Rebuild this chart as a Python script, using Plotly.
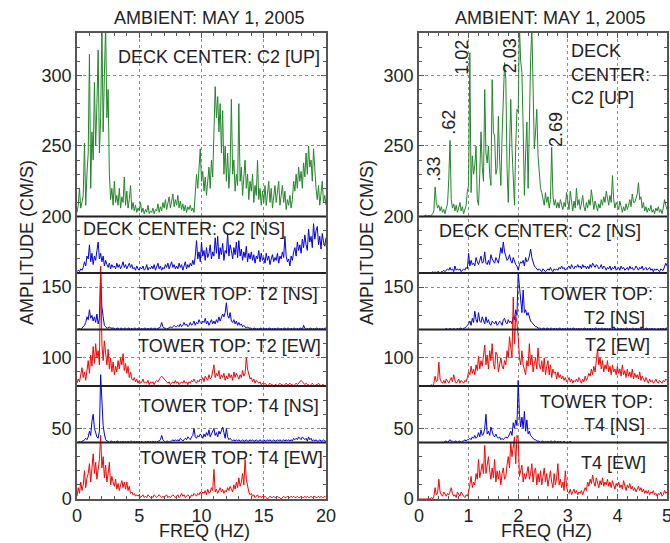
import plotly.graph_objects as go

# ---------------- DATA ----------------
# Left panel: 0-20 Hz, step 0.1 Hz (amplitudes above each trace's baseline, cm/s)
STEP_L = 0.1
GREEN_L = [
    3, 8, 20, 6, 10, 15, 52, 8, 30, 45,
    115, 20, 60, 40, 95, 50, 80, 118, 45, 70,
    135, 60, 100, 135, 70, 90, 30, 12, 20, 8,
    25, 10, 15, 8, 20, 6, 14, 10, 28, 8,
    18, 6, 12, 22, 5, 10, 4, 8, 3, 6,
    4, 10, 3, 6, 2, 5, 3, 8, 2, 4,
    3, 6, 2, 5, 4, 9, 3, 7, 4, 10,
    6, 12, 5, 9, 14, 6, 10, 16, 7, 12,
    8, 15, 6, 11, 5, 9, 4, 8, 3, 7,
    5, 8, 4, 6, 3, 18, 30, 20, 35, 48,
    25, 32, 18, 28, 15, 25, 35, 20, 40, 28,
    55, 92, 70, 85, 60, 80, 45, 75, 30, 50,
    25, 45, 20, 35, 83, 30, 40, 18, 30, 22,
    80, 25, 35, 15, 28, 40, 20, 30, 12, 25,
    18, 30, 10, 22, 15, 40, 12, 20, 8, 18,
    10, 22, 8, 15, 25, 10, 20, 6, 14, 22,
    10, 18, 25, 8, 15, 22, 10, 18, 5, 12,
    8, 15, 6, 12, 25, 18, 30, 20, 35, 25,
    32, 20, 38, 28, 45, 30, 50, 35, 40, 25,
    48, 30, 20, 12, 22, 8, 18, 25, 10, 15,
    8]
C2NS_L = [
    1, 2, 1, 3, 2, 4, 8, 5, 12, 10,
    20, 8, 14, 6, 12, 9, 16, 22, 10, 14,
    8, 12, 5, 9, 6, 4, 7, 3, 6, 4,
    5, 3, 7, 4, 6, 3, 5, 8, 4, 6,
    3, 5, 7, 4, 6, 3, 4, 2, 5, 3,
    2, 4, 3, 5, 2, 3, 6, 2, 4, 3,
    5, 3, 6, 2, 4, 7, 3, 5, 2, 4,
    3, 6, 4, 7, 3, 5, 8, 4, 6, 3,
    5, 3, 7, 4, 6, 2, 5, 8, 3, 6,
    4, 7, 5, 9, 6, 12, 23, 10, 15, 8,
    22, 12, 16, 9, 18, 11, 14, 20, 10, 15,
    12, 25, 14, 26, 10, 18, 13, 21, 9, 16,
    14, 28, 12, 20, 16, 10, 18, 13, 22, 11,
    23, 12, 17, 9, 15, 11, 19, 8, 14, 10,
    15, 9, 13, 7, 12, 10, 16, 8, 14, 9,
    11, 7, 14, 9, 12, 6, 10, 13, 8, 11,
    9, 14, 7, 12, 10, 15, 11, 26, 12, 8,
    10, 5, 12, 9, 15, 18, 12, 22, 16, 20,
    14, 24, 18, 27, 20, 16, 31, 22, 26, 18,
    35, 24, 30, 33, 20, 26, 17, 28, 22, 19,
    25]
T2NS_L = [
    0, 0, 1, 0, 1, 2, 3, 5, 9, 7,
    14, 8, 10, 6, 9, 5, 11, 4, 8, 40,
    16, 9, 3, 2, 1, 1, 2, 1, 1, 1,
    1, 0, 1, 1, 0, 1, 1, 0, 1, 1,
    0, 1, 1, 0, 1, 0, 1, 1, 0, 1,
    1, 0, 1, 0, 1, 1, 0, 1, 0, 1,
    1, 0, 1, 1, 0, 1, 1, 2, 5, 2,
    1, 1, 0, 1, 1, 2, 1, 2, 3, 2,
    2, 3, 2, 4, 2, 3, 5, 3, 4, 2,
    3, 5, 3, 4, 6, 3, 5, 4, 7, 5,
    4, 6, 5, 8, 4, 6, 3, 5, 7, 4,
    6, 4, 7, 5, 9, 6, 8, 11, 9, 12,
    19, 10, 8, 12, 6, 5, 7, 4, 6, 3,
    5, 3, 4, 2, 3, 2, 1, 2, 1, 1,
    1, 0, 1, 1, 0, 1, 0, 1, 1, 0,
    1, 0, 1, 0, 1, 1, 0, 1, 0, 1,
    0, 1, 1, 0, 1, 0, 1, 1, 0, 1,
    1, 0, 1, 0, 1, 1, 0, 1, 0, 1,
    1, 0, 3, 1, 0, 1, 0, 1, 1, 0,
    1, 0, 1, 1, 0, 1, 0, 1, 0, 1,
    1]
T2EW_L = [
    2, 5, 3, 8, 13, 6, 10, 4, 12, 18,
    9, 22, 14, 28, 16, 30, 20, 25, 15, 85,
    30, 18, 32, 22, 15, 26, 12, 20, 10, 17,
    8, 14, 10, 18, 12, 20, 15, 23, 11, 16,
    9, 14, 6, 10, 5, 4, 6, 3, 5, 2,
    4, 2, 3, 5, 2, 3, 2, 4, 1, 3,
    2, 3, 1, 3, 4, 3, 5, 6, 7, 6,
    5, 4, 3, 2, 3, 1, 2, 3, 2, 4,
    2, 3, 1, 2, 3, 2, 4, 2, 3, 1,
    3, 2, 4, 3, 5, 3, 2, 4, 3, 5,
    4, 6, 3, 7, 5, 4, 8, 5, 6, 10,
    15, 6, 9, 7, 11, 5, 8, 6, 9, 4,
    7, 5, 9, 6, 8, 4, 10, 6, 9, 7,
    5, 8, 6, 11, 7, 9, 20, 12, 8, 5,
    6, 3, 5, 2, 4, 3, 2, 3, 1, 2,
    1, 2, 1, 0, 1, 2, 1, 1, 0, 1,
    1, 0, 1, 2, 1, 1, 0, 1, 2, 1,
    1, 2, 1, 1, 0, 1, 2, 1, 2, 3,
    4, 3, 2, 1, 2, 1, 1, 0, 1, 2,
    1, 0, 1, 1, 2, 1, 0, 1, 1, 0,
    1]
T4NS_L = [
    0, 0, 1, 0, 1, 1, 2, 3, 2, 4,
    8, 5, 15, 20, 10, 6, 4, 3, 8, 48,
    24, 12, 6, 2, 1, 1, 0, 1, 1, 0,
    1, 0, 1, 1, 0, 1, 0, 1, 0, 1,
    0, 1, 0, 1, 1, 0, 1, 0, 1, 0,
    1, 0, 1, 0, 0, 1, 0, 1, 0, 1,
    0, 1, 0, 1, 0, 1, 1, 2, 5, 2,
    1, 0, 1, 1, 0, 1, 1, 2, 1, 2,
    1, 2, 1, 3, 2, 1, 2, 3, 2, 4,
    3, 2, 4, 5, 10, 4, 3, 5, 4, 6,
    5, 3, 6, 4, 7, 5, 9, 4, 6, 8,
    10, 5, 7, 4, 8, 6, 9, 11, 7, 3,
    10, 4, 2, 3, 2, 1, 2, 1, 2, 1,
    2, 1, 1, 2, 1, 1, 2, 1, 1, 2,
    1, 2, 1, 1, 2, 1, 1, 2, 1, 1,
    2, 1, 1, 2, 1, 2, 1, 1, 2, 1,
    1, 2, 1, 2, 1, 1, 2, 1, 2, 1,
    2, 1, 2, 1, 3, 2, 3, 2, 4, 3,
    2, 4, 3, 2, 3, 1, 4, 2, 3, 1,
    2, 1, 2, 1, 1, 2, 1, 1, 2, 1,
    1]
T4EW_L = [
    2, 8, 4, 12, 6, 10, 20, 8, 15, 18,
    25, 12, 22, 32, 18, 26, 14, 20, 28, 45,
    22, 30, 15, 24, 12, 18, 26, 10, 16, 12,
    9, 14, 7, 11, 6, 10, 13, 8, 12, 7,
    12, 6, 9, 4, 5, 3, 4, 2, 3, 2,
    3, 1, 2, 3, 1, 2, 1, 3, 2, 1,
    2, 1, 3, 2, 1, 2, 3, 2, 1, 2,
    1, 2, 3, 1, 2, 1, 2, 3, 2, 1,
    2, 3, 1, 2, 4, 2, 3, 1, 2, 3,
    2, 1, 3, 2, 4, 3, 2, 4, 3, 5,
    3, 5, 4, 6, 3, 7, 4, 5, 8, 6,
    21, 5, 7, 4, 6, 8, 5, 7, 4, 6,
    5, 8, 6, 9, 7, 5, 10, 7, 12, 8,
    15, 9, 12, 18, 10, 28, 14, 8, 5, 3,
    4, 2, 3, 1, 2, 3, 1, 2, 1, 2,
    1, 2, 1, 0, 1, 2, 1, 1, 2, 1,
    1, 2, 1, 1, 0, 1, 2, 1, 1, 2,
    1, 1, 2, 1, 2, 1, 1, 2, 1, 1,
    2, 1, 1, 2, 1, 2, 1, 1, 2, 1,
    1, 2, 1, 1, 2, 1, 2, 1, 1, 2,
    1]

# Right panel: 0-5 Hz, step 0.025 Hz
STEP_R = 0.025
GREEN_R = [
    0, 0, 0, 0, 0, 1, 1, 0,
    1, 0, 1, 2, 4, 21, 10, 6,
    8, 4, 7, 3, 5, 2, 6, 9,
    26, 54, 12, 6, 9, 4, 8, 3,
    6, 10, 4, 7, 2, 5, 8, 18,
    22, 116, 17, 43, 30, 36, 50, 12,
    8, 30, 60, 35, 25, 90, 45, 38,
    50, 30, 22, 97, 60, 57, 30, 34,
    71, 40, 22, 57, 80, 109, 97, 34,
    10, 40, 83, 48, 25, 8, 50, 76,
    74, 135, 110, 102, 62, 15, 45, 67,
    20, 83, 110, 135, 74, 48, 60, 76,
    43, 27, 20, 17, 13, 8, 17, 10,
    14, 6, 12, 49, 15, 8, 12, 6,
    10, 6, 12, 8, 5, 10, 7, 17,
    9, 5, 18, 8, 4, 11, 6, 20,
    8, 12, 5, 9, 15, 7, 4, 10,
    6, 12, 8, 19, 9, 5, 11, 7,
    4, 9, 6, 12, 8, 14, 10, 18,
    12, 8, 15, 10, 29, 12, 6, 10,
    8, 5, 11, 6, 3, 7, 4, 9,
    5, 8, 12, 7, 16, 10, 10, 13,
    16, 24, 12, 14, 6, 10, 4, 7,
    3, 6, 4, 8, 3, 5, 2, 6,
    4, 7, 3, 5, 2, 6, 12, 8,
    5]
C2NS_R = [
    0, 0, 0, 0, 0, 0, 0, 0,
    0, 0, 0, 1, 0, 1, 0, 1,
    1, 0, 1, 1, 2, 1, 2, 3,
    2, 4, 2, 3, 1, 5, 2, 3,
    2, 3, 1, 2, 3, 2, 4, 3,
    14, 5, 9, 6, 7, 5, 11, 8,
    6, 9, 12, 7, 8, 15, 7, 6,
    9, 6, 13, 10, 8, 7, 11, 9,
    7, 12, 18, 14, 22, 15, 12, 9,
    10, 13, 9, 7, 11, 8, 6, 5,
    2, 6, 8, 7, 9, 5, 11, 8,
    9, 12, 17, 11, 7, 5, 4, 3,
    2, 3, 2, 1, 3, 2, 1, 2,
    3, 2, 4, 2, 1, 3, 2, 3,
    2, 4, 3, 5, 3, 4, 2, 3,
    4, 5, 3, 6, 4, 3, 5, 4,
    6, 4, 5, 3, 6, 4, 5, 3,
    5, 3, 6, 4, 7, 5, 4, 6,
    5, 3, 4, 6, 3, 5, 4, 2,
    4, 3, 5, 2, 4, 3, 5, 2,
    3, 4, 2, 5, 3, 4, 2, 3,
    4, 2, 5, 3, 4, 2, 3, 5,
    3, 2, 4, 3, 5, 2, 3, 4,
    2, 3, 4, 2, 3, 1, 3, 2,
    3, 2, 1, 3, 2, 2, 4, 7,
    5]
T2NS_R = [
    0, 0, 0, 0, 0, 0, 0, 0,
    0, 0, 0, 0, 0, 0, 0, 0,
    0, 0, 0, 0, 0, 0, 1, 0,
    0, 1, 0, 0, 1, 0, 0, 1,
    0, 1, 1, 0, 1, 1, 2, 3,
    4, 6, 3, 8, 5, 13, 7, 5,
    12, 6, 5, 9, 7, 4, 9, 5,
    7, 4, 3, 6, 5, 4, 6, 3,
    4, 6, 5, 3, 7, 8, 5, 4,
    7, 5, 6, 4, 9, 7, 14, 10,
    40, 31, 19, 12, 28, 12, 14, 10,
    12, 8, 6, 5, 4, 3, 2, 2,
    1, 1, 1, 0, 1, 1, 0, 1,
    1, 0, 1, 1, 0, 1, 0, 1,
    0, 1, 1, 0, 1, 0, 1, 0,
    1, 0, 1, 0, 1, 1, 0, 1,
    0, 1, 0, 1, 0, 1, 1, 0,
    1, 0, 1, 0, 1, 0, 1, 1,
    0, 1, 0, 1, 1, 0, 1, 0,
    1, 0, 1, 0, 1, 0, 1, 0,
    0, 1, 0, 1, 0, 1, 0, 1,
    1, 0, 1, 0, 1, 1, 0, 1,
    0, 1, 0, 1, 0, 1, 0, 1,
    1, 0, 1, 0, 1, 0, 1, 0,
    0, 1, 0, 1, 0, 1, 0, 1,
    1]
T2EW_R = [
    0, 0, 0, 0, 0, 0, 0, 0,
    0, 0, 1, 0, 2, 7, 3, 4,
    17, 5, 3, 2, 4, 2, 5, 3,
    2, 4, 6, 3, 8, 4, 2, 3,
    5, 2, 4, 3, 2, 4, 3, 6,
    10, 8, 14, 9, 12, 8, 15, 11,
    21, 12, 18, 14, 20, 29, 15, 22,
    12, 25, 18, 30, 16, 12, 24, 22,
    10, 16, 20, 14, 12, 18, 15, 25,
    20, 35, 25, 20, 63, 30, 50, 45,
    35, 20, 15, 25, 15, 10, 8, 18,
    14, 30, 15, 22, 10, 16, 20, 12,
    27, 15, 12, 18, 10, 20, 8, 14,
    18, 8, 15, 6, 12, 9, 10, 5,
    10, 6, 8, 5, 7, 4, 6, 3,
    4, 6, 3, 5, 2, 4, 3, 5,
    3, 6, 4, 2, 5, 3, 7, 4,
    6, 9, 7, 12, 8, 14, 10, 18,
    26, 15, 20, 12, 18, 10, 15, 12,
    18, 10, 14, 8, 15, 10, 12, 8,
    14, 9, 12, 7, 15, 8, 11, 6,
    12, 7, 10, 6, 12, 5, 9, 6,
    8, 5, 10, 4, 7, 5, 3, 6,
    4, 2, 5, 3, 4, 2, 3, 5,
    3, 2, 4, 3, 2, 4, 3, 5,
    4]
T4NS_R = [
    0, 0, 0, 0, 0, 0, 0, 0,
    0, 0, 0, 0, 0, 0, 0, 0,
    0, 0, 0, 0, 0, 1, 1, 0,
    1, 2, 1, 1, 0, 1, 1, 0,
    1, 1, 0, 1, 1, 2, 1, 2,
    2, 3, 2, 4, 3, 5, 3, 4,
    7, 4, 9, 5, 6, 10, 20, 6,
    8, 5, 11, 7, 5, 4, 6, 4,
    3, 4, 2, 3, 2, 3, 4, 3,
    4, 6, 8, 5, 14, 10, 16, 12,
    44, 20, 11, 18, 10, 22, 8, 16,
    6, 8, 5, 4, 3, 2, 2, 1,
    1, 1, 0, 1, 1, 0, 1, 0,
    1, 0, 1, 1, 0, 1, 1, 0,
    1, 0, 1, 0, 0, 1, 0, 0,
    0, 0, 1, 0, 0, 0, 0, 0,
    0, 0, 0, 0, 0, 0, 0, 0,
    0, 0, 0, 0, 0, 0, 0, 0,
    0, 0, 0, 0, 0, 0, 0, 0,
    0, 0, 0, 0, 0, 0, 0, 0,
    0, 0, 0, 0, 0, 0, 0, 0,
    0, 0, 0, 0, 0, 0, 0, 0,
    0, 0, 0, 0, 0, 0, 0, 0,
    0, 0, 0, 0, 0, 0, 0, 0,
    0, 0, 0, 0, 0, 0, 0, 0,
    0]
T4EW_R = [
    0, 0, 0, 0, 0, 0, 0, 0,
    0, 0, 1, 0, 2, 8, 3, 4,
    14, 5, 3, 2, 5, 3, 2, 4,
    3, 5, 8, 4, 2, 3, 1, 5,
    3, 2, 5, 3, 2, 1, 3, 2,
    5, 10, 16, 8, 12, 10, 18, 14,
    28, 15, 22, 25, 18, 38, 18, 24,
    30, 20, 14, 22, 15, 28, 12, 20,
    14, 20, 10, 18, 22, 14, 16, 24,
    30, 22, 40, 30, 37, 44, 25, 45,
    43, 16, 20, 24, 12, 18, 14, 20,
    23, 14, 18, 25, 12, 20, 22, 10,
    18, 12, 20, 10, 15, 22, 12, 18,
    9, 16, 20, 12, 8, 18, 10, 15,
    25, 10, 14, 8, 12, 6, 20, 9,
    5, 4, 7, 3, 5, 7, 4, 6,
    3, 5, 4, 6, 3, 5, 8, 6,
    12, 9, 14, 11, 17, 12, 9, 15,
    11, 8, 13, 10, 15, 9, 12, 10,
    14, 9, 12, 8, 13, 10, 7, 11,
    9, 12, 8, 10, 7, 13, 9, 6,
    10, 8, 11, 7, 9, 6, 8, 5,
    7, 9, 6, 8, 5, 7, 4, 6,
    4, 6, 3, 5, 4, 6, 3, 4,
    2, 4, 3, 5, 2, 3, 6, 4,
    5]

OFFSETS = [200, 160, 120, 80, 40, 0]
SERIES_NAMES = ["DECK CENTER: C2 [UP]", "DECK CENTER: C2 [NS]", "TOWER TOP: T2 [NS]",
                "TOWER TOP: T2 [EW]", "TOWER TOP: T4 [NS]", "TOWER TOP: T4 [EW]"]
LEFT_SERIES = [GREEN_L, C2NS_L, T2NS_L, T2EW_L, T4NS_L, T4EW_L]
RIGHT_SERIES = [GREEN_R, C2NS_R, T2NS_R, T2EW_R, T4NS_R, T4EW_R]
COLORS = ["#22862a", "#0000e6", "#0000e6", "#ff0000", "#0000e6", "#ff0000"]

PEAK_LABELS = [".33", ".62", "1.02", "2.03", "2.69"]
PEAK_LABEL_X = [0.30, 0.60, 0.86, 1.83, 2.76]
PEAK_LABEL_Y = [234, 267, 313, 314, 262]

TITLE = "AMBIENT: MAY 1, 2005"
Y_TITLE = "AMPLITUDE (CM/S)"
X_TITLE = "FREQ (HZ)"
Y_TICKS = [0, 50, 100, 150, 200, 250, 300]
X_TICKS_L = [0, 5, 10, 15, 20]
X_TICKS_R = [0, 1, 2, 3, 4, 5]

# ---------------- FIGURE ----------------
FONT = "Liberation Sans, Arial, Helvetica, sans-serif"
TXT = "#222222"
FS = 18

W, H = 670, 543
ML, MR, MT, MB = 0, 0, 33, 44
L_X0, L_X1 = 77, 326
R_X0, R_X1 = 419, 667

fig = go.Figure()

freq_l = [round(i * STEP_L, 4) for i in range(len(GREEN_L))]
freq_r = [round(i * STEP_R, 4) for i in range(len(GREEN_R))]

for vals, off, col, name in zip(LEFT_SERIES, OFFSETS, COLORS, SERIES_NAMES):
    fig.add_trace(go.Scatter(x=freq_l, y=[v + off for v in vals], mode="lines",
                             line=dict(color=col, width=1), name=name,
                             xaxis="x", yaxis="y", showlegend=False, hoverinfo="skip"))
for vals, off, col, name in zip(RIGHT_SERIES, OFFSETS, COLORS, SERIES_NAMES):
    fig.add_trace(go.Scatter(x=freq_r, y=[v + off for v in vals], mode="lines",
                             line=dict(color=col, width=1), name=name,
                             xaxis="x2", yaxis="y2", showlegend=False, hoverinfo="skip"))

axis_common = dict(showline=True, linecolor="#555555", linewidth=1.5, mirror="allticks",
                   ticks="inside", ticklen=5, tickcolor="#555555",
                   showgrid=True, gridcolor="#8a8a8a", griddash="dot", gridwidth=1,
                   zeroline=False, tickfont=dict(family=FONT, size=FS, color=TXT),
                   ticklabeloverflow="allow", automargin=False)

fig.update_layout(
    width=W, height=H, margin=dict(l=ML, r=MR, t=MT, b=MB),
    paper_bgcolor="white", plot_bgcolor="white",
    xaxis=dict(domain=[L_X0 / W, L_X1 / W], range=[0, 20], tickvals=X_TICKS_L,
               minor=dict(dtick=1, ticks="inside", ticklen=3, tickcolor="#555555", showgrid=False),
               anchor="y", **axis_common),
    yaxis=dict(domain=[0, 1], range=[0, 330], tickvals=Y_TICKS,
               minor=dict(dtick=10, ticks="inside", ticklen=3, tickcolor="#555555", showgrid=False),
               anchor="x", **axis_common),
    xaxis2=dict(domain=[R_X0 / W, R_X1 / W], range=[0, 5], tickvals=X_TICKS_R,
                minor=dict(dtick=0.2, ticks="inside", ticklen=3, tickcolor="#555555", showgrid=False),
                anchor="y2", **axis_common),
    yaxis2=dict(domain=[0, 1], range=[0, 330], tickvals=Y_TICKS,
                minor=dict(dtick=10, ticks="inside", ticklen=3, tickcolor="#555555", showgrid=False),
                anchor="x2", **axis_common),
)

# baselines between stacked spectra
for xr, yr, xmax in (("x", "y", 20), ("x2", "y2", 5)):
    for off in OFFSETS[:-1]:
        fig.add_shape(type="line", xref=xr, yref=yr, x0=0, x1=xmax, y0=off, y1=off,
                      line=dict(color="#222222", width=2), layer="above")

ann = []
plot_h = H - MT - MB


def py_to_paper(py):
    return (H - MB - py) / plot_h


# titles
ann.append(dict(text=TITLE, x=209 / W, y=py_to_paper(18), xref="paper", yref="paper",
                showarrow=False, xanchor="center", yanchor="middle"))
ann.append(dict(text=TITLE, x=550 / W, y=py_to_paper(18), xref="paper", yref="paper",
                showarrow=False, xanchor="center", yanchor="middle"))
# axis titles
for px in (27, 367):
    ann.append(dict(text=Y_TITLE, x=px / W, y=py_to_paper(243), xref="paper", yref="paper",
                    showarrow=False, textangle=-90, xanchor="center", yanchor="middle"))
for px in (204, 546):
    ann.append(dict(text=X_TITLE, x=px / W, y=py_to_paper(543), xref="paper", yref="paper",
                    showarrow=False, xanchor="center", yanchor="bottom"))

# left panel labels (data coords)
left_labels = [
    (SERIES_NAMES[0], 19.7, 313, "right"),
    (SERIES_NAMES[1], 0.3, 191.5, "left"),
    (SERIES_NAMES[2], 19.5, 145, "right"),
    (SERIES_NAMES[3], 19.75, 108, "right"),
    (SERIES_NAMES[4], 19.6, 66, "right"),
    (SERIES_NAMES[5], 19.9, 29, "right"),
]
for t, x, y, xa in left_labels:
    ann.append(dict(text=t, x=x, y=y, xref="x", yref="y", showarrow=False,
                    xanchor=xa, yanchor="middle"))

right_labels = [
    ("DECK", 3.02, 317, "left"),
    ("CENTER:", 3.02, 300.5, "left"),
    ("C2 [UP]", 3.02, 284, "left"),
    (SERIES_NAMES[1], 2.43, 190, "center"),
    ("TOWER TOP:", 4.76, 145, "right"),
    ("T2 [NS]", 4.6, 128.5, "right"),
    ("T2 [EW]", 4.7, 109, "right"),
    ("TOWER TOP:", 4.76, 69, "right"),
    ("T4 [NS]", 4.6, 52.5, "right"),
    ("T4 [EW]", 4.62, 25.5, "right"),
]
for t, x, y, xa in right_labels:
    ann.append(dict(text=t, x=x, y=y, xref="x2", yref="y2", showarrow=False,
                    xanchor=xa, yanchor="middle"))

for t, x, y in zip(PEAK_LABELS, PEAK_LABEL_X, PEAK_LABEL_Y):
    ann.append(dict(text=t, x=x, y=y, xref="x2", yref="y2", showarrow=False,
                    textangle=-90, xanchor="center", yanchor="middle"))

for a in ann:
    a["font"] = dict(family=FONT, size=FS, color=TXT)
fig.update_layout(annotations=ann)

fig.write_html("out.html")
